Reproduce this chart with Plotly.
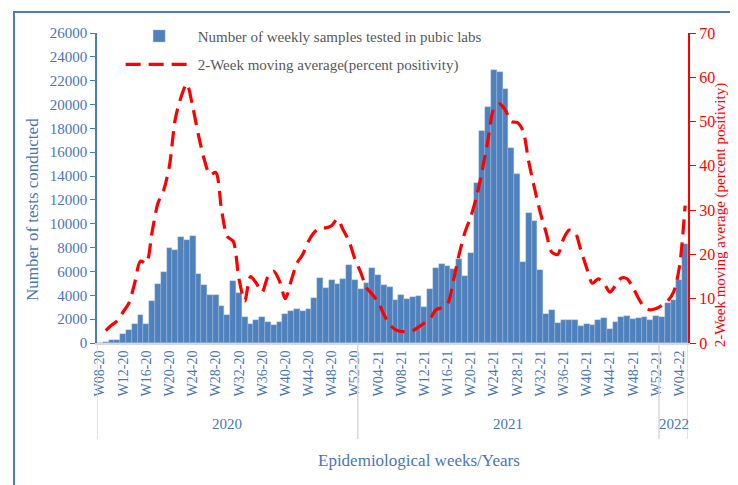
import plotly.graph_objects as go

# ---------------- data ----------------
weeks_2020 = [f"W{w:02d}-20" for w in range(8, 53)]   # W08-20 .. W52-20
weeks_2021 = [f"W{w:02d}-21" for w in range(1, 53)]   # W01-21 .. W52-21
weeks_2022 = [f"W{w:02d}-22" for w in range(1, 6)]    # W01-22 .. W05-22
weeks = weeks_2020 + weeks_2021 + weeks_2022

years = ["2020", "2021", "2022"]
year_sizes = [len(weeks_2020), len(weeks_2021), len(weeks_2022)]

tests = [
    30, 60, 220, 250, 780, 1100, 1580, 2320, 1620, 3530,
    4980, 5980, 7970, 7830, 8870, 8660, 8960, 5800, 4900, 4000,
    4000, 3140, 2330, 5230, 4220, 2150, 1620, 1960, 2180, 1760,
    1510, 1760, 2460, 2660, 2820, 2710, 2880, 3750, 5450, 4590,
    5310, 4980, 5370, 6510, 5310, 4560, 5030, 6320, 5730, 4890,
    4700, 3630, 4000, 3720, 3860, 3970, 3020, 4530, 6320, 6650,
    6430, 6200, 7050, 5650, 7550, 13420, 17750, 19800, 22930, 22760,
    21300, 16380, 14200, 6820, 10900, 10260, 6100, 2460, 2750, 1710,
    1960, 1960, 1960, 1450, 1570, 1540, 1900, 2070, 1170, 1760,
    2210, 2240, 2040, 2070, 2180, 1900, 2290, 2150, 3360, 3630,
    5310, 8300,
]

positivity = [
    None, 2.8, 4.0, 5.0, 7.0, 9.0, 13.5, 18.5, 18.0, 25.0,
    31.5, 34.5, 40.0, 50.5, 55.5, 58.5, 53.5, 47.0, 41.5, 38.0,
    38.5, 30.0, 24.0, 23.0, 14.5, 9.5, 15.0, 13.5, 11.5, 15.0,
    16.2, 14.0, 10.0, 14.0, 18.0, 20.0, 23.0, 25.0, 26.0, 26.0,
    26.5, 28.0, 25.5, 23.0, 19.0, 16.0, 12.5, 11.0, 9.3, 6.5,
    4.2, 3.0, 2.6, 2.6, 2.8, 3.6, 4.5, 5.5, 7.5, 8.0,
    8.8, 14.0, 20.0, 25.0, 28.5, 33.0, 39.0, 46.0, 53.0, 54.0,
    52.5, 50.0, 49.8, 48.0, 41.0, 35.0, 29.5, 25.0, 20.5, 20.0,
    23.5, 25.5, 25.0, 21.0, 17.0, 13.5, 14.5, 13.5, 11.5, 13.0,
    14.7, 14.5, 12.5, 10.0, 8.0, 7.5, 7.8, 8.5, 9.5, 11.5,
    17.0, 31.0,
]

tick_weeks = weeks[::4]

# ---------------- styling ----------------
BLUE = "#4f81bd"
TXT_BLUE = "#4a76b8"
RED = "#ff0000"
GREY_TXT = "#595959"
FONT = "Liberation Serif"

fig = go.Figure()

fig.add_trace(go.Bar(
    x=weeks, y=tests,
    name="Number of weekly samples tested in pubic labs",
    marker=dict(color=BLUE, line=dict(color="#a9c0e0", width=0.4)),
    legendgroup="a",
))

fig.add_trace(go.Scatter(
    x=weeks, y=positivity, yaxis="y2",
    name="2-Week moving average(percent positivity)",
    mode="lines",
    line=dict(color=RED, width=3.2, dash="15px,8px", shape="spline", smoothing=0.8),
    connectgaps=False,
    legendgroup="b",
))

# year separators and labels
shapes = []
annotations = []
bounds = [-0.5]
for n in year_sizes:
    bounds.append(bounds[-1] + n)
for b in bounds:
    shapes.append(dict(type="line", xref="x", yref="paper",
                       x0=b, x1=b, y0=0, y1=-0.31,
                       line=dict(color="#d9d9d9", width=1.5)))
for yr, a, b in zip(years, bounds[:-1], bounds[1:]):
    annotations.append(dict(text=yr, xref="x", yref="paper",
                            x=(a + b) / 2, y=-0.293, showarrow=False,
                            font=dict(family=FONT, size=15, color=TXT_BLUE)))

annotations.append(dict(text="Epidemiological weeks/Years", xref="paper", yref="paper",
                        x=0.545, y=-0.416, showarrow=False,
                        font=dict(family=FONT, size=17, color=TXT_BLUE)))

# axis titles (placed like the original, slightly below the axis centre)
annotations.append(dict(text="Number of tests conducted", xref="paper", yref="paper",
                        x=-0.11, y=0.432, xanchor="center", yanchor="middle",
                        textangle=-90, showarrow=False,
                        font=dict(family=FONT, size=17, color=TXT_BLUE)))
annotations.append(dict(text="2-Week moving average (percent positivity)",
                        xref="paper", yref="paper",
                        x=1.0565, y=0.413, xanchor="center", yanchor="middle",
                        textangle=-90, showarrow=False,
                        font=dict(family=FONT, size=15, color=RED)))

# outer frame
shapes.append(dict(type="rect", xref="paper", yref="paper",
                   x0=-0.1404, x1=1.3, y0=-0.7, y1=1.0677,
                   line=dict(color="#4a7ebb", width=2), layer="below"))

# the page body has an 8px margin, so the figure is sized to fill the rest
fig.update_layout(
    width=730, height=477,
    margin=dict(l=89, r=50, t=25, b=142),
    paper_bgcolor="white", plot_bgcolor="white",
    bargap=0,
    font=dict(family=FONT, color=TXT_BLUE),
    showlegend=True,
    legend=dict(x=0.04, y=1.043, xanchor="left", yanchor="top",
                bgcolor="rgba(0,0,0,0)", itemwidth=67, tracegroupgap=6,
                font=dict(family=FONT, size=15, color=GREY_TXT)),
    xaxis=dict(
        type="category", automargin=False,
        tickmode="array", tickvals=tick_weeks, ticktext=tick_weeks,
        tickangle=-90,
        tickfont=dict(family=FONT, size=14, color=TXT_BLUE),
        showline=True, linecolor="#d9d9d9", linewidth=2,
        ticks="", showgrid=False, zeroline=False,
        range=[-0.5, len(weeks) - 0.5],
    ),
    yaxis=dict(
        automargin=False,
        range=[0, 26000], dtick=2000, tick0=0, tickformat="d",
        tickfont=dict(family=FONT, size=15, color=TXT_BLUE),
        showline=True, linecolor="#4a7ebb", linewidth=1.5,
        ticks="outside", ticklen=5, tickcolor="#4a7ebb",
        showgrid=False, zeroline=False,
    ),
    yaxis2=dict(
        overlaying="y", side="right", automargin=False,
        range=[0, 70], dtick=10, tick0=0,
        tickfont=dict(family=FONT, size=16, color=RED),
        showline=True, linecolor=RED, linewidth=2,
        ticks="outside", ticklen=6, tickcolor=RED,
        showgrid=False, zeroline=False,
    ),
    shapes=shapes,
    annotations=annotations,
)

fig.write_html("out.html")
